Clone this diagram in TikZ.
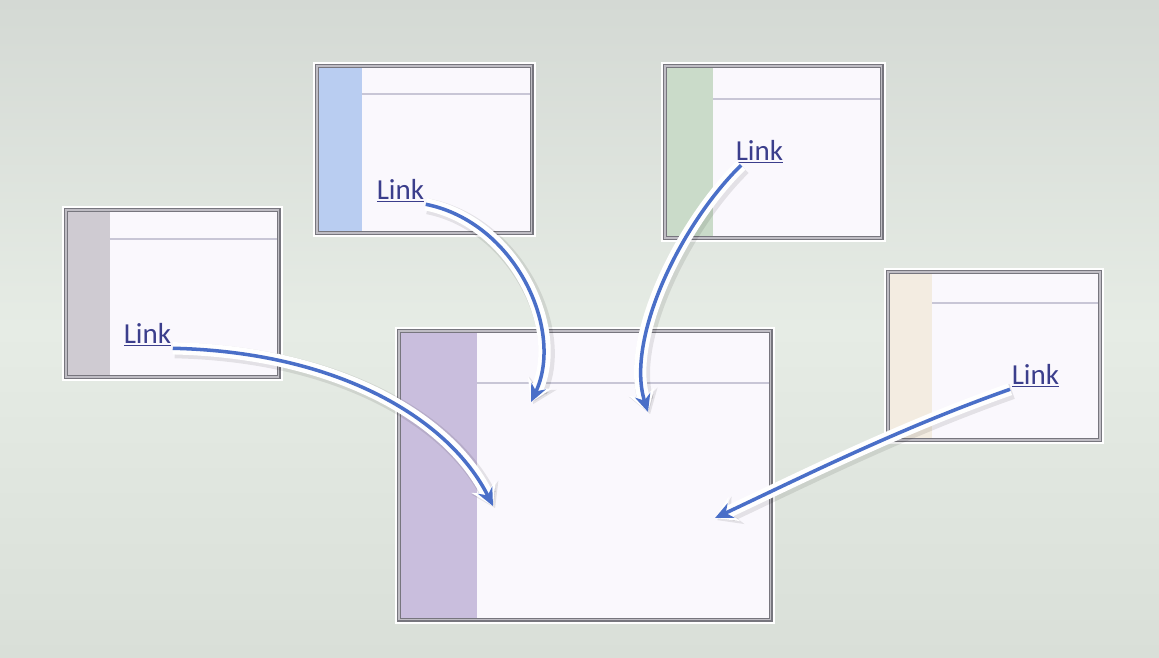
\documentclass[tikz,border=0pt]{standalone}
\usepackage{fontspec}
\newfontfamily\linkfont{Carlito}
\usetikzlibrary{arrows.meta}

\definecolor{bgtop}{HTML}{D4D9D4}
\definecolor{bgmid}{HTML}{E6ECE5}
\definecolor{bgbottom}{HTML}{D9DFD8}
\definecolor{cardedge}{HTML}{77767E}
\definecolor{cardfill}{HTML}{FAF8FD}
\definecolor{headrule}{HTML}{C8C6D6}
\definecolor{sidegray}{HTML}{CFCBD2}
\definecolor{sideblue}{HTML}{B9CDF1}
\definecolor{sidegreen}{HTML}{CADBC9}
\definecolor{sidebeige}{HTML}{F3ECE1}
\definecolor{sidepurple}{HTML}{C9BEDD}
\definecolor{linktext}{HTML}{3B3E8C}
\definecolor{flowblue}{HTML}{4A6FC8}

\begin{document}
\begin{tikzpicture}[
    x=0.02cm, y=-0.02cm,
    card/.style n args={3}{draw=cardedge, line width=0.8pt,
                double=cardfill!55!cardedge, double distance=0.6pt,
                fill=cardfill, anchor=north west, inner sep=0pt, outer sep=0pt,
                preaction={draw=white, line width=5pt},
                path picture={
                  \fill[#1] (path picture bounding box.north west)
                    rectangle ([xshift=#2]path picture bounding box.south west);
                  \draw[headrule, line width=0.6pt]
                    ([xshift=#2, yshift=-#3]path picture bounding box.north west)
                    -- ([yshift=-#3]path picture bounding box.north east);}},
    link/.style={anchor=base west, inner sep=0pt, outer sep=1pt, text=linktext,
                 font=\linkfont\fontsize{16.5}{18}\selectfont},
    flow/.style={draw=flowblue, line width=2pt,
                 -{Stealth[length=10pt, width=9pt]},
                 preaction={draw=black, opacity=0.09, line width=9pt,
                            transform canvas={shift={(1.2pt,-1.2pt)}},
                            -{Stealth[length=13pt, width=17pt]}},
                 preaction={draw=white, line width=7pt,
                            -{Stealth[length=12pt, width=15pt]}}}
]
    % backdrop
    \shade[top color=bgtop, bottom color=bgbottom, middle color=bgmid]
        (0,0) rectangle (1159,657);
    \useasboundingbox (0,0) rectangle (1159,657);

    % cards
    \node[card={sidegray}{0.88cm}{0.58cm},
          minimum width=4.26cm, minimum height=3.34cm] (gray) at (66,210) {};
    \node[card={sideblue}{0.9cm}{0.56cm},
          minimum width=4.3cm, minimum height=3.34cm] (blue) at (317,66) {};
    \node[card={sidegreen}{0.96cm}{0.66cm},
          minimum width=4.34cm, minimum height=3.44cm] (green) at (665,66) {};
    \node[card={sidebeige}{0.88cm}{0.62cm},
          minimum width=4.24cm, minimum height=3.36cm] (beige) at (888,272) {};
    \node[card={sidepurple}{1.56cm}{1.04cm},
          minimum width=7.44cm, minimum height=5.78cm] (target) at (399,331) {};

    % links
    \node[link] (lnkGray)  at (122,343) {\underline{Link}};
    \node[link] (lnkBlue)  at (375,199) {\underline{Link}};
    \node[link] (lnkGreen) at (734,160) {\underline{Link}};
    \node[link] (lnkBeige) at (1010,384) {\underline{Link}};

    \coordinate (tipGray)  at (493,506);
    \coordinate (tipBlue)  at (531,402);
    \coordinate (tipGreen) at (648,412);
    \coordinate (tipBeige) at (715,518);

    \draw[flow] (lnkGray.south east) .. controls (340,352) and (450,420) .. (tipGray);
    \draw[flow] (lnkBlue.south east) .. controls (515,222) and (565,330) .. (tipBlue);
    \draw[flow] ([xshift=4pt]lnkGreen.south west) .. controls (680,225) and (625,340) .. (tipGreen);
    \draw[flow] (lnkBeige.south west) .. controls (900,428) and (800,478) .. (tipBeige);
\end{tikzpicture}
\end{document}
